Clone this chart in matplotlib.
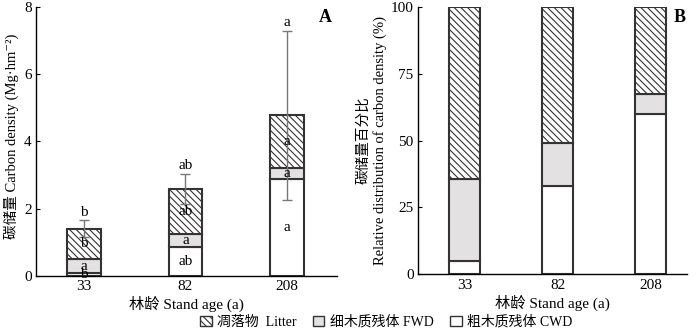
import numpy as np
import matplotlib.pyplot as plt
from matplotlib.patches import Patch

plt.rcParams['font.family'] = ['Liberation Serif', 'Noto Sans CJK SC', 'DejaVu Serif']
plt.rcParams['hatch.linewidth'] = 0.8

# datos
ages = ['33', '82', '208']
cwd = [0.08, 0.85, 2.87]
fwd = [0.42, 0.41, 0.35]
litter = [0.91, 1.33, 1.55]
sd = [0.24, 0.44, 2.52]
lab_top = ['b', 'ab', 'a']
lab_litter = ['b', 'ab', 'a']
lab_fwd = ['a', 'a', 'a']
lab_cwd = ['b', 'ab', 'a']

pct_cwd = [5.0, 33.0, 60.0]
pct_fwd = [30.8, 16.0, 7.5]
pct_litter = [64.2, 51.0, 32.5]

edge = '#333333'
grey = '#e4e1e2'

fig = plt.figure(figsize=(7.0, 3.33), dpi=100)
ax1 = fig.add_axes([0.0514, 0.171, 0.430, 0.809])
ax2 = fig.add_axes([0.597, 0.176, 0.384, 0.804])

x = np.arange(len(ages))
w = 0.33

def stack(ax, a, b, c):
    a = np.array(a); b = np.array(b); c = np.array(c)
    ax.bar(x, a, w, color='white', edgecolor=edge, linewidth=1.5, zorder=2)
    ax.bar(x, b, w, bottom=a, color=grey, edgecolor=edge, linewidth=1.5, zorder=2)
    ax.bar(x, c, w, bottom=a + b, color='white', edgecolor=edge,
           linewidth=1.5, hatch='\\\\\\\\\\', zorder=2)
    return a, b, c

a, b, c = stack(ax1, cwd, fwd, litter)
tot = a + b + c
ax1.errorbar(x, tot, yerr=sd, fmt='none', ecolor='#777777', elinewidth=1,
             capsize=3.5, capthick=1, zorder=3)
for i in range(len(ages)):
    ax1.text(x[i], tot[i] + sd[i] + 0.05, lab_top[i], ha='center', va='bottom', fontsize=11)
    ax1.text(x[i], a[i] + b[i] + c[i] / 2, lab_litter[i], ha='center', va='center', fontsize=11, zorder=4)
    ax1.text(x[i], a[i] + b[i] / 2, lab_fwd[i], ha='center', va='center', fontsize=11, zorder=4)
    ax1.text(x[i], max(a[i] / 2, 0.02), lab_cwd[i], ha='center', va='center', fontsize=11, zorder=4)

ax1.set_xlim(-0.47, 2.49)
ax1.set_ylim(0, 8)
ax1.set_yticks([0, 2, 4, 6, 8])
ax1.set_ylabel('碳储量 Carbon density (Mg·hm⁻²)', fontsize=10.5)
ax1.yaxis.set_label_coords(-0.056, 0.52)
ax1.set_xlabel('林龄 Stand age (a)', fontsize=11, labelpad=2)
ax1.text(0.96, 0.96, 'A', transform=ax1.transAxes, fontsize=13, fontweight='bold',
         ha='center', va='center')

stack(ax2, pct_cwd, pct_fwd, pct_litter)
ax2.set_xlim(-0.505, 2.39)
ax2.set_ylim(0, 100)
ax2.set_yticks([0, 25, 50, 75, 100])
ax2.set_ylabel('碳储量百分比\nRelative distribution of carbon density (%)', fontsize=10.5,
               labelpad=3, linespacing=1.25)
ax2.set_xlabel('林龄 Stand age (a)', fontsize=11, labelpad=2)
ax2.text(0.975, 0.96, 'B', transform=ax2.transAxes, fontsize=13, fontweight='bold',
         ha='center', va='center')

for ax in (ax1, ax2):
    ax.set_xticks(x)
    ax.set_xticklabels(ages, fontsize=11)
    for s in ['top', 'right']:
        ax.spines[s].set_visible(False)
    ax.spines['left'].set_linewidth(1)
    ax.spines['bottom'].set_linewidth(1)
    ax.tick_params(axis='y', direction='in', length=3, labelsize=11, pad=3)
    ax.tick_params(axis='x', length=0, pad=3)

handles = [Patch(facecolor='white', edgecolor=edge, hatch='\\\\\\\\\\', label='凋落物  Litter'),
           Patch(facecolor=grey, edgecolor=edge, label='细木质残体 FWD'),
           Patch(facecolor='white', edgecolor=edge, label='粗木质残体 CWD')]
fig.legend(handles=handles, loc='center', bbox_to_anchor=(0.552, 0.033), ncol=3,
           frameon=False, fontsize=10, handlelength=0.8, handleheight=0.8,
           handletextpad=0.4, columnspacing=1.2)

fig.savefig('out.png', dpi=100)
